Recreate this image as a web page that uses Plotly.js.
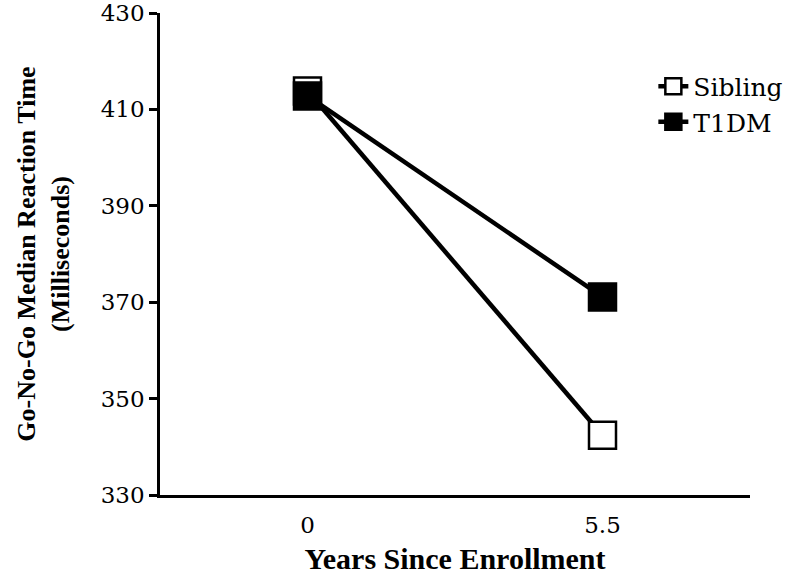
<!DOCTYPE html>
<html>
<head>
<meta charset="utf-8">
<script src="https://cdn.plot.ly/plotly-3.0.1.min.js"></script>
<style>
  html, body { margin: 0; padding: 0; background: #fff; }
  #chart { width: 800px; height: 575px; }
</style>
</head>
<body>
<div id="chart"></div>
<script>
const years = ["0", "5.5"];
const sibling = [413.8, 342.4];
const t1dm = [412.8, 371.1];
const yTicks = [330, 350, 370, 390, 410, 430];

// bold titles render fine in Liberation Serif, regular text needs DejaVu Serif at 300
const serif = "Liberation Serif";
const plain = {family: "DejaVu Serif", color: "#000", weight: 300};

function makeTrace(name, y, fill) {
    return {
        x: years,
        y: y,
        name: name,
        type: "scatter",
        mode: "lines+markers",
        line: {color: "#000", width: 4.5},
        marker: {
            symbol: "square",
            size: 27,
            color: fill,
            line: {color: "#000", width: 2.5},
        },
        cliponaxis: false,
    };
}

window.addEventListener('load', function () {
    let data = [
        makeTrace("Sibling", sibling, "#fff"),
        makeTrace("T1DM", t1dm, "#000"),
    ];

    let layout = {
        width: 800,
        height: 575,
        paper_bgcolor: "#fff",
        plot_bgcolor: "#fff",
        font: {family: serif, color: "#000", size: 26},
        margin: {l: 160, r: 50, t: 13, b: 80},
        showlegend: true,
        legend: {
            x: 1.065, y: 0.895,
            xanchor: "right", yanchor: "top",
            font: Object.assign({size: 25}, plain),
            tracegroupgap: 0,
            bgcolor: "rgba(0,0,0,0)",
        },
        xaxis: {
            type: "category",
            range: [-0.5, 1.5],
            showline: true,
            linecolor: "#000",
            linewidth: 2.5,
            showgrid: false,
            zeroline: false,
            ticks: "",
            ticklabelstandoff: 8,
            tickfont: Object.assign({size: 23}, plain),
            title: {
                text: "<b>Years Since Enrollment</b>",
                font: {family: serif, size: 30, color: "#000"},
                standoff: 18,
            },
        },
        yaxis: {
            range: [330, 430],
            tickvals: yTicks,
            showline: true,
            linecolor: "#000",
            linewidth: 2.5,
            showgrid: false,
            zeroline: false,
            ticks: "outside",
            ticklen: 8,
            tickwidth: 2.5,
            tickcolor: "#000",
            ticklabeloverflow: "allow",
            tickfont: Object.assign({size: 23}, plain),
            title: {
                text: "<b>Go-No-Go Median Reaction Time<br>(Milliseconds)</b>",
                font: {family: serif, size: 26, color: "#000"},
                standoff: 24,
            },
        },
    };

    Plotly.newPlot("chart", data, layout, {displayModeBar: false});
});
</script>
</body>
</html>
